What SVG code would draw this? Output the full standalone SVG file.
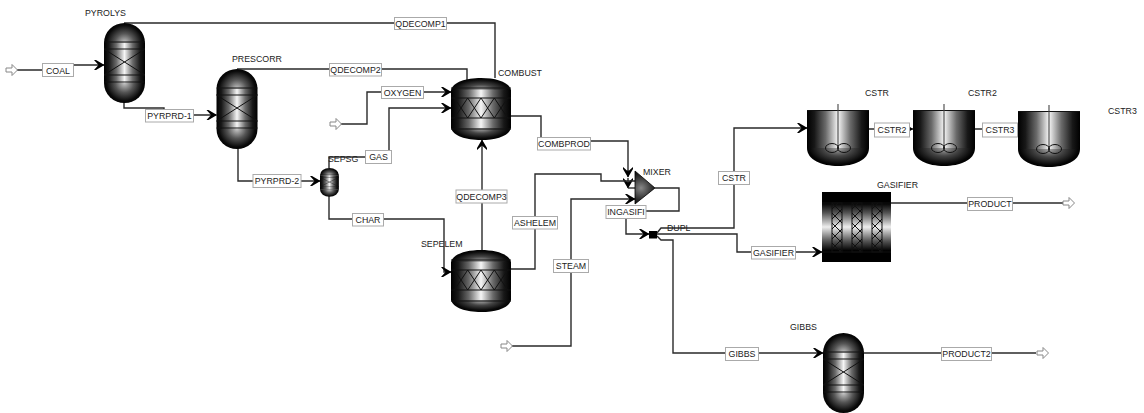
<svg xmlns="http://www.w3.org/2000/svg" xmlns:xlink="http://www.w3.org/1999/xlink" width="1144" height="413" viewBox="0 0 1144 413">
<style>
text{font-family:"Liberation Sans",Arial,sans-serif;font-size:8.8px;fill:#222}
.ln{fill:none;stroke:#2a2a2a;stroke-width:1.4}
.ar{marker-end:url(#ah)}
.arS{marker-end:url(#ahS)}
.bx{fill:#fff;stroke:#aaa;stroke-width:1}
.feed{fill:#fff;stroke:#888;stroke-width:1}
.in{fill:none;stroke:#111;stroke-width:1}
.lb{text-anchor:middle}
</style>
<defs>
<marker id="ah" markerUnits="userSpaceOnUse" markerWidth="12" markerHeight="12" refX="10" refY="5" orient="auto" overflow="visible"><path d="M0,0 L2,0 L10.5,5 L2,10 L0,10 L4.5,5Z" fill="#000"/></marker>
<marker id="ahS" markerUnits="userSpaceOnUse" markerWidth="5" markerHeight="5" refX="3" refY="2" orient="auto"><path d="M0,0 L3,2 L0,4Z" fill="#000"/></marker>
<linearGradient id="h"><stop offset="0" stop-color="#000"/><stop offset=".12" stop-color="#181818"/><stop offset=".3" stop-color="#6a6a6a"/><stop offset=".5" stop-color="#f6f6f6"/><stop offset=".7" stop-color="#6a6a6a"/><stop offset=".88" stop-color="#181818"/><stop offset="1" stop-color="#000"/></linearGradient>
<linearGradient id="v" x1="0" y1="0" x2="0" y2="1"><stop offset="0" stop-color="#000"/><stop offset=".16" stop-color="#000"/><stop offset=".3" stop-color="#555"/><stop offset=".5" stop-color="#eee"/><stop offset=".7" stop-color="#555"/><stop offset=".84" stop-color="#000"/><stop offset="1" stop-color="#000"/></linearGradient>
<radialGradient id="mx" gradientUnits="userSpaceOnUse" cx="641" cy="188" r="18"><stop offset="0" stop-color="#888"/><stop offset=".6" stop-color="#333"/><stop offset="1" stop-color="#000"/></radialGradient>
<radialGradient id="domeT" gradientUnits="userSpaceOnUse" cx="20.5" cy="20" r="21"><stop offset="0" stop-color="#c8c8c8"/><stop offset=".45" stop-color="#555"/><stop offset=".85" stop-color="#0a0a0a"/><stop offset="1" stop-color="#000"/></radialGradient>
<radialGradient id="domeB" gradientUnits="userSpaceOnUse" cx="20.5" cy="60" r="21"><stop offset="0" stop-color="#c8c8c8"/><stop offset=".45" stop-color="#555"/><stop offset=".85" stop-color="#0a0a0a"/><stop offset="1" stop-color="#000"/></radialGradient>
<radialGradient id="rT" gradientUnits="userSpaceOnUse" cx="0" cy="0" r="1" gradientTransform="translate(30,12) scale(31,12)"><stop offset="0" stop-color="#bbb"/><stop offset=".45" stop-color="#444"/><stop offset=".85" stop-color="#0a0a0a"/><stop offset="1" stop-color="#000"/></radialGradient>
<radialGradient id="rB" gradientUnits="userSpaceOnUse" cx="0" cy="0" r="1" gradientTransform="translate(30,50) scale(31,12)"><stop offset="0" stop-color="#bbb"/><stop offset=".45" stop-color="#444"/><stop offset=".85" stop-color="#0a0a0a"/><stop offset="1" stop-color="#000"/></radialGradient>
<radialGradient id="bowl" gradientUnits="userSpaceOnUse" cx="0" cy="0" r="1" gradientTransform="translate(31,38) scale(32,18)"><stop offset="0" stop-color="#aaa"/><stop offset=".45" stop-color="#444"/><stop offset=".9" stop-color="#050505"/><stop offset="1" stop-color="#000"/></radialGradient>
<pattern id="xp" patternUnits="userSpaceOnUse" x="0" y="11" width="10" height="10"><path d="M0,0L10,10M10,0L0,10" stroke="#111" stroke-width="1"/></pattern>
<g id="column">
<rect x="0" y="20" width="41" height="40" fill="url(#h)"/>
<path d="M0,20A20.5,20 0 0 1 41,20Z" fill="url(#domeT)"/>
<path d="M0,60A20.5,20 0 0 0 41,60Z" fill="url(#domeB)"/>
<path class="in" d="M0,19H41M0,26H41M0,52H41M0,59H41M0,26L41,52M41,26L0,52"/>
</g>
<g id="reactor">
<rect x="0" y="12" width="60" height="38" fill="url(#h)"/>
<path d="M0,12C2,4 15,0 30,0S58,4 60,12Z" fill="url(#rT)"/>
<path d="M0,50C2,58 15,62 30,62S58,58 60,50Z" fill="url(#rB)"/>
<path class="in" d="M0,10H60M0,20H60M0,40H60M0,51H60M3.3,20L16.7,40L30,20L43.3,40L56.7,20M3.3,40L16.7,20L30,40L43.3,20L56.7,40"/>
</g>
<g id="cstr">
<rect x="0" y="0" width="62" height="38" fill="url(#h)"/>
<path d="M0,38C0,50 15,56 31,56S62,50 62,38Z" fill="url(#bowl)"/>
<path d="M0,.5H62" stroke="#111" stroke-width="1"/>
<path d="M31,-6V38" stroke="#444" stroke-width="1.1"/>
<ellipse cx="25" cy="38" rx="6.5" ry="4.5" class="in"/>
<ellipse cx="37" cy="38" rx="6.5" ry="4.5" class="in"/>
</g>
<path id="feedR" d="M0,-2H6V-5.5L11.5,0L6,5.5V2H0Z"/>
</defs>
<rect width="1144" height="413" fill="#fff"/>
<g id="connectors">
<path class="ln ar" d="M17,70H58V65H104"/>
<path class="ln ar" d="M124,102V108H164V115H216.5"/>
<path class="ln" d="M124,23H495V78"/>
<path class="ln" d="M237,69H467V80"/>
<path class="ln ar" d="M340,124H367V92H451"/>
<path class="ln ar" d="M329,168V157H389V108H451"/>
<path class="ln ar" d="M238,148V181H320"/>
<path class="ln ar" d="M329,196V219H444V272H451"/>
<path class="ln ar" d="M482,250V140"/>
<path class="ln" d="M511,116H541V141H628V176"/>
<path class="ln ar" d="M628,170V177"/>
<path class="ln ar" d="M628,178V188"/>
<path class="ln" d="M628,188H635"/>
<path class="ln" d="M511,269H535V174H601V181H635"/>
<path class="ln ar" d="M511,346H571V199H635"/>
<path class="ln" d="M655,188H679V211H640"/>
<path class="ln ar" d="M626,212V234H649"/>
<path class="ln ar" d="M657,233L661,228H734V128H807"/>
<path class="ln ar" d="M657,234H737V252H822"/>
<path class="ln ar" d="M657,236L661,240H673V353H823"/>
<path class="ln arS" d="M869,129H913"/>
<path class="ln arS" d="M974,129H1018"/>
<path class="ln" d="M891,203H1063"/>
<path class="ln" d="M864,353H1036"/>
<use href="#feedR" class="feed" transform="translate(6,70)"/>
<use href="#feedR" class="feed" transform="translate(330,124)"/>
<use href="#feedR" class="feed" transform="translate(501,346)"/>
<use href="#feedR" class="feed" transform="translate(1063,203)"/>
<use href="#feedR" class="feed" transform="translate(1037,353)"/>
<g id="stream-labels">
<rect class="bx" x="42.5" y="63.5" width="31" height="13"/><text class="lb" x="58" y="73.5">COAL</text>
<rect class="bx" x="145.5" y="109.5" width="48" height="12.5"/><text class="lb" x="169.5" y="119">PYRPRD-1</text>
<rect class="bx" x="394.5" y="17.5" width="52" height="12"/><text class="lb" x="420.5" y="26.5">QDECOMP1</text>
<rect class="bx" x="329.5" y="63.5" width="52" height="12.5"/><text class="lb" x="355.5" y="73">QDECOMP2</text>
<rect class="bx" x="381.5" y="86.5" width="42" height="12"/><text class="lb" x="402.5" y="95.5">OXYGEN</text>
<rect class="bx" x="365.5" y="150.5" width="26" height="13"/><text class="lb" x="378.5" y="160">GAS</text>
<rect class="bx" x="253" y="174.5" width="48" height="13"/><text class="lb" x="277" y="184">PYRPRD-2</text>
<rect class="bx" x="352.5" y="213.5" width="31" height="12.5"/><text class="lb" x="368" y="223">CHAR</text>
<rect class="bx" x="456" y="190" width="51" height="13"/><text class="lb" x="481.5" y="200">QDECOMP3</text>
<rect class="bx" x="537.5" y="137.5" width="53" height="12.5"/><text class="lb" x="564" y="147">COMBPROD</text>
<rect class="bx" x="512.5" y="216.5" width="45" height="12.5"/><text class="lb" x="535" y="226">ASHELEM</text>
<rect class="bx" x="553.5" y="259.5" width="35" height="13"/><text class="lb" x="571" y="269">STEAM</text>
<rect class="bx" x="606" y="205.5" width="40" height="13"/><text class="lb" x="626" y="215">INGASIFI</text>
<rect class="bx" x="718.5" y="171.5" width="31" height="13"/><text class="lb" x="734" y="181">CSTR</text>
<rect class="bx" x="751.5" y="246.5" width="44" height="12.5"/><text class="lb" x="773.5" y="256">GASIFIER</text>
<rect class="bx" x="725.5" y="347.5" width="33" height="13"/><text class="lb" x="742" y="357">GIBBS</text>
<rect class="bx" x="874.5" y="123" width="35" height="14"/><text class="lb" x="892" y="133">CSTR2</text>
<rect class="bx" x="982.5" y="123" width="35" height="14"/><text class="lb" x="1000" y="133">CSTR3</text>
<rect class="bx" x="967.5" y="197.5" width="45" height="13"/><text class="lb" x="990" y="207">PRODUCT</text>
<rect class="bx" x="941.5" y="347.5" width="50" height="13"/><text class="lb" x="966.5" y="357">PRODUCT2</text>
</g>
</g>
<g id="PYROLYS"><use href="#column" transform="translate(104,23)"/><text x="85" y="16">PYROLYS</text></g>
<g id="PRESCORR"><use href="#column" transform="translate(216.5,69)"/><text x="232" y="62">PRESCORR</text></g>
<g id="SEPSG"><use href="#column" transform="translate(320,168) scale(.46,.36)"/><text x="328" y="162">SEPSG</text></g>
<g id="COMBUST"><use href="#reactor" transform="translate(451,78)"/><text x="498" y="76">COMBUST</text></g>
<g id="SEPELEM"><use href="#reactor" transform="translate(451,250)"/><text x="421" y="247">SEPELEM</text></g>
<g id="MIXER"><path d="M635,171L655,188L635,204Z" fill="url(#mx)" stroke="#000" stroke-width=".8"/><text x="643" y="175">MIXER</text></g>
<g id="DUPL"><rect x="649" y="231" width="8" height="7.5" fill="#000"/><text x="667" y="231">DUPL</text></g>
<g id="CSTR"><use href="#cstr" transform="translate(807,110)"/><text x="865" y="96">CSTR</text></g>
<g id="CSTR2"><use href="#cstr" transform="translate(913,110)"/><text x="968" y="96">CSTR2</text></g>
<g id="CSTR3"><use href="#cstr" transform="translate(1018,111)"/><text x="1108" y="114">CSTR3</text></g>
<g id="GASIFIER">
<rect x="822" y="192" width="69" height="70" fill="url(#v)"/>
<path class="in" d="M822,203H891M822,252H891"/>
<rect x="832" y="203" width="10" height="49" fill="url(#xp)" stroke="#111"/>
<rect x="852" y="203" width="10" height="49" fill="url(#xp)" stroke="#111"/>
<rect x="872" y="203" width="10" height="49" fill="url(#xp)" stroke="#111"/>
<text x="877" y="188">GASIFIER</text>
</g>
<g id="GIBBS"><use href="#column" transform="translate(823,333)"/><text x="790" y="330">GIBBS</text></g>
</svg>
